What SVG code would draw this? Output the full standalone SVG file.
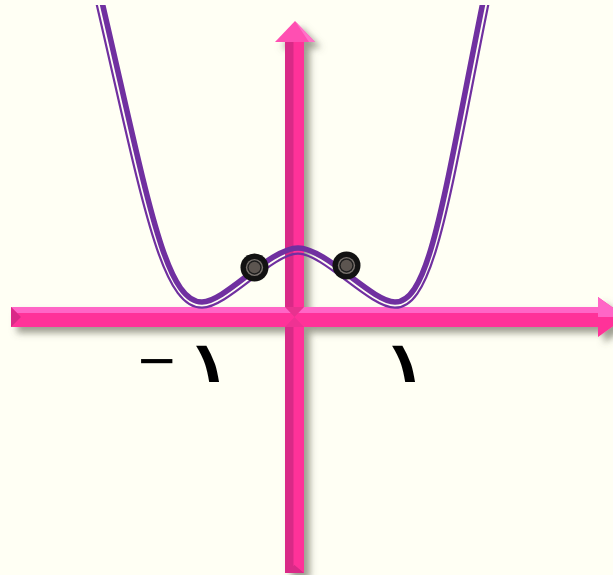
<svg xmlns="http://www.w3.org/2000/svg" width="613" height="575" viewBox="0 0 613 575">
<style>
.thick{fill:none;stroke:#7030a0;stroke-width:5.6;stroke-linecap:butt}
.thin{fill:none;stroke:#7030a0;stroke-width:2.2}
.lbl{font-family:"DejaVu Sans",sans-serif;font-weight:bold;fill:#000}
.lbl.minus{font-weight:normal}
.dark{fill:#d92b87}
.main{fill:#ff3399}
.light{fill:#ff66c6}
</style>
<defs>
<filter id="sh" x="-10%" y="-10%" width="130%" height="130%">
<feDropShadow dx="6" dy="6" stdDeviation="3.5" flood-color="#5f5f50" flood-opacity="0.6"/>
</filter>
<clipPath id="cl"><rect x="0" y="5" width="613" height="570"/></clipPath>
<g id="dotShape">
<circle r="14" fill="#121212"/>
<circle r="8.6" fill="#7a746f"/>
<circle r="7.2" fill="#1c1c1c"/>
<circle r="5.8" fill="#5c5550"/>
</g>
</defs>
<rect width="613" height="575" fill="#fffff4"/>
<g id="axes" filter="url(#sh)">
<g id="y-axis">
<rect class="main" x="285" y="40" width="19" height="533"/>
<rect class="dark" x="285" y="40" width="8.5" height="533"/>
<polygon class="dark" points="285,573 294.5,565 304,573"/>
<polygon fill="#ff4fb2" points="275,42 295,21 315,42"/>
<polygon fill="#ff72c8" points="295,21 315,42 309,42"/>
</g>
<g id="x-axis">
<rect class="main" x="11" y="307" width="589" height="20"/>
<polygon class="light" points="11,307 600,307 600,313 17,313"/>
<polygon class="dark" points="11,307 21,317 11,327"/>
<polygon class="main" points="598,297 626,317 598,337"/>
<polygon fill="#ff66c6" points="598,297 626,317 598,317"/>
<polygon fill="#e8308f" points="285,307 304,307 294.5,317"/>
<polygon fill="#ef3193" points="285,327 304,327 294.5,317"/>
</g>
</g>
<g id="curve" clip-path="url(#cl)">
<path class="thin" d="M96.4,3.2 C142.4,201.1 160.2,307.7 202,307.7 C227.6,307.7 272.6,253.7 298,253.7 C323.4,253.7 369.4,307.7 395,307.7 C435,307.7 448.6,200.9 488.6,3.1"/>
<path class="thick" d="M102,2 C148,200 165,302 202,302 C225,302 270,248 298,248 C326,248 372,302 395,302 C430,302 443,200 483,2"/>
</g>
<g id="point-left"><use href="#dotShape" x="254.5" y="267.5"/></g>
<g id="point-right"><use href="#dotShape" x="346.5" y="265.5"/></g>
<g id="label-minus1">
<text class="lbl minus" x="136" y="377" font-size="50">−</text>
<text class="lbl" font-size="57" transform="translate(194.4,382) skewX(10)">١</text>
</g>
<g id="label-1">
<text class="lbl" font-size="57" transform="translate(390.4,382) skewX(10)">١</text>
</g>
</svg>
